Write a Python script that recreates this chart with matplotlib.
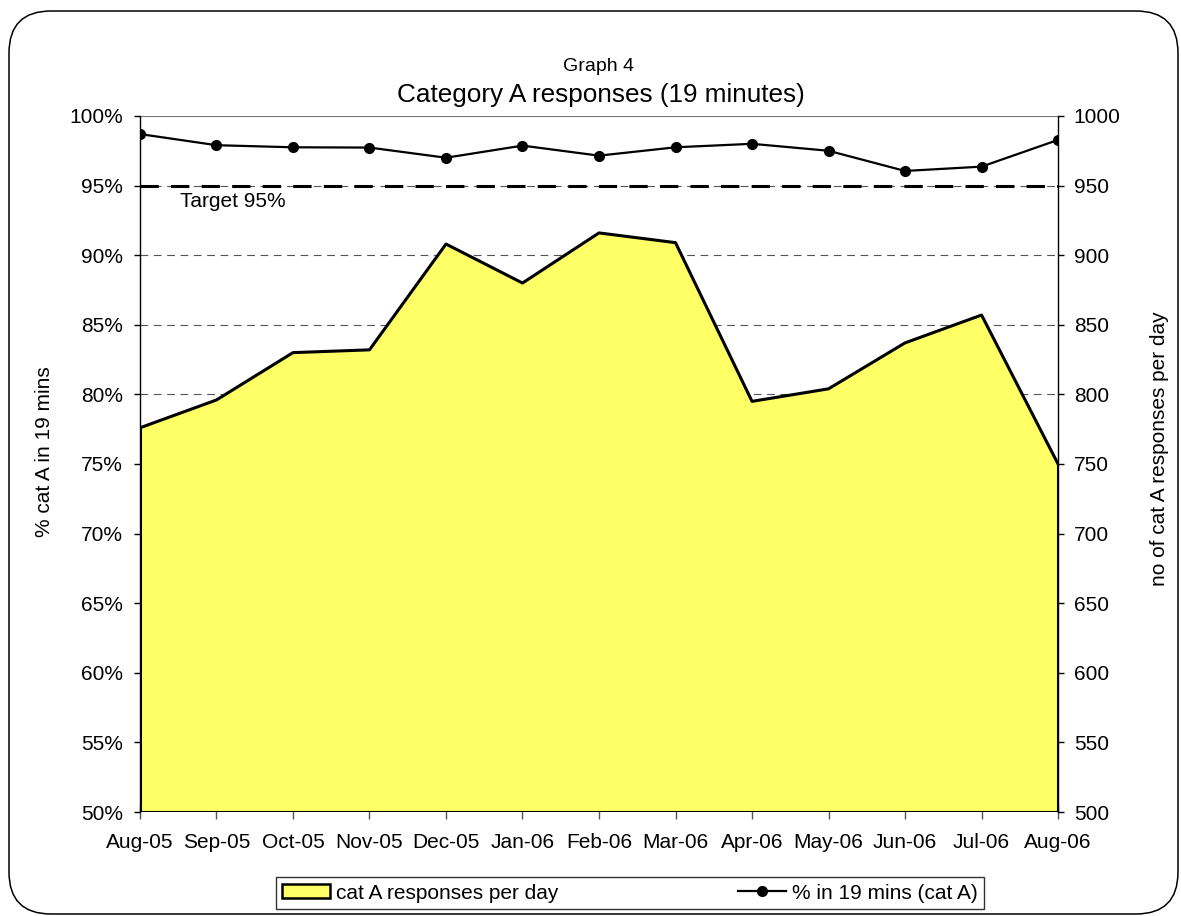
import matplotlib
matplotlib.use("Agg")
import matplotlib.pyplot as plt
from matplotlib.patches import FancyBboxPatch, Patch
from matplotlib.lines import Line2D
from matplotlib.ticker import FixedLocator

plt.rcParams['font.family'] = ['Liberation Sans', 'DejaVu Sans']

# data
months = ['Aug-05', 'Sep-05', 'Oct-05', 'Nov-05', 'Dec-05', 'Jan-06', 'Feb-06',
          'Mar-06', 'Apr-06', 'May-06', 'Jun-06', 'Jul-06', 'Aug-06']
responses_per_day = [776, 796, 830, 832, 908, 880, 916, 909, 795, 804, 837, 857, 750]
pct_in_19 = [98.7, 97.9, 97.75, 97.73, 97.0, 97.87, 97.15, 97.75, 98.0, 97.5, 96.05, 96.36, 98.28]
target = 95
left_ticks = [50, 55, 60, 65, 70, 75, 80, 85, 90, 95, 100]
right_ticks = [500, 550, 600, 650, 700, 750, 800, 850, 900, 950, 1000]

fig = plt.figure(figsize=(11.81, 9.16), dpi=100)

# rounded outer frame
frame = FancyBboxPatch((0.09, 0.02), 11.69, 9.03, boxstyle="round,pad=0,rounding_size=0.42",
                       transform=fig.dpi_scale_trans, facecolor='white', edgecolor='black',
                       linewidth=1.1, zorder=-10)
fig.patches.append(frame)

ax2 = fig.add_axes([0.1185, 0.1135, 0.7774, 0.7599])  # right axis, area + grid
ax = ax2.twinx()
ax.yaxis.tick_left()
ax2.yaxis.tick_right()
ax.set_zorder(ax2.get_zorder() + 1)
ax.patch.set_visible(False)
ax2.patch.set_visible(False)

x = list(range(len(months)))

# area
ax2.fill_between(x, 500, responses_per_day, facecolor='#ffff66', edgecolor='none', zorder=2)
ax2.plot(x, responses_per_day, color='black', linewidth=2.2, zorder=3)
ax2.plot([x[0], x[0]], [500, responses_per_day[0]], color='black', linewidth=2.2, zorder=3)
ax2.plot([x[-1], x[-1]], [500, responses_per_day[-1]], color='black', linewidth=2.2, zorder=3)
ax2.plot([x[0], x[-1]], [500, 500], color='black', linewidth=2.2, zorder=3)
ax2.set_ylim(500, 1000)
ax2.set_xlim(0, len(months) - 1)
ax2.yaxis.set_major_locator(FixedLocator(right_ticks))
for v in right_ticks[1:-1]:
    ax2.axhline(v, color='#555555', linewidth=0.8, dashes=(7, 5), zorder=1)
ax2.axhline(1000, color='#777777', linewidth=0.8, zorder=1)

# percentage line
ax.axhline(target, color='black', linewidth=2.2, dashes=(6, 4), zorder=2)
ax.plot(x, pct_in_19, color='black', linewidth=1.6, marker='o', markersize=7, zorder=4)
ax.text(1.216, 93.82, 'Target 95%', fontsize=15, ha='center', va='center')
ax.set_ylim(50, 100)
ax.yaxis.set_major_locator(FixedLocator(left_ticks))
ax.set_yticklabels(['%d%%' % v for v in left_ticks])

ax2.set_xticks(x)
ax2.set_xticklabels(months)

for a in (ax, ax2):
    for s in a.spines.values():
        s.set_visible(False)
ax.spines['left'].set_visible(True)
ax.spines['left'].set_linewidth(1.0)
ax2.spines['right'].set_visible(True)
ax2.spines['right'].set_linewidth(1.0)

ax.tick_params(axis='y', labelsize=15, length=4.3, width=1, direction='out', pad=8)
ax2.tick_params(axis='y', labelsize=15, length=4.3, width=1, direction='out', pad=7)
ax2.tick_params(axis='x', labelsize=15, length=9.6, width=1, color='#555555', direction='inout', pad=10.5)
ax.tick_params(axis='x', bottom=False, labelbottom=False, top=False, labeltop=False)

# axis titles
fig.text(0.038, 0.507, '% cat A in 19 mins', fontsize=15, rotation=90, ha='center', va='center')
fig.text(0.982, 0.510, 'no of cat A responses per day', fontsize=15, rotation=90, ha='center', va='center')

fig.text(0.507, 0.927, 'Graph 4', fontsize=14, ha='center', va='center')
fig.text(0.509, 0.896, 'Category A responses (19 minutes)', fontsize=18.8, ha='center', va='center')

handles = [Patch(facecolor='#ffff66', edgecolor='black', linewidth=1.8),
           Line2D([0], [0], color='black', linewidth=1.6, marker='o', markersize=7)]
leg = fig.legend(handles, ['cat A responses per day', '% in 19 mins (cat A)'],
                 loc='center', bbox_to_anchor=(0.5334, 0.0251), ncol=2, fontsize=15,
                 frameon=True, fancybox=False, edgecolor='black', columnspacing=8.6,
                 handlelength=2.3, handleheight=0.62, handletextpad=0.3, borderpad=0.3,
                 borderaxespad=0)
leg.get_frame().set_linewidth(1.0)

fig.savefig('out.png', dpi=100)
